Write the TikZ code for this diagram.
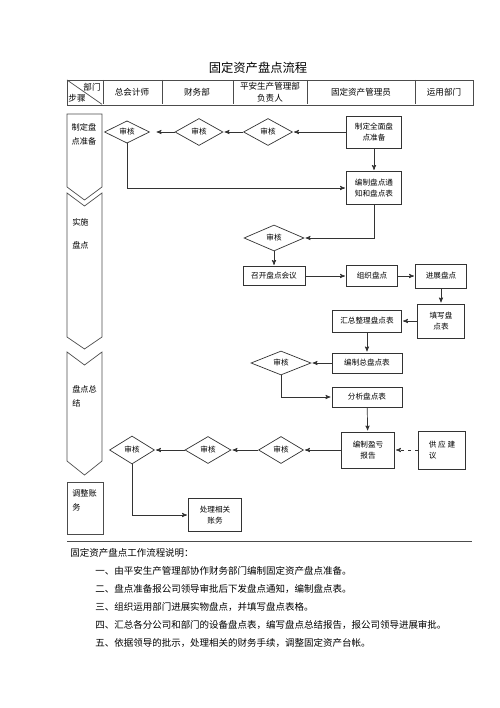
\documentclass[tikz,border=0pt]{standalone}
\usepackage{fontspec}
\setmainfont{Noto Sans CJK SC}
\usepackage{tikz}
\usetikzlibrary{arrows,shapes.geometric,positioning}

\begin{document}
\begin{tikzpicture}[x=0.3mm,y=-0.3mm,->,>=stealth',shorten >=1pt,line width=0.6pt,draw=black!80,
    box/.style={draw,rectangle,align=center,inner sep=1pt,font=\fontsize{6.5}{10}\selectfont},
    check/.style={draw,diamond,inner sep=0pt,font=\fontsize{6.5}{8}\selectfont},
    lane/.style={-,draw=black!70},
    note/.style={anchor=west,inner sep=0pt,font=\fontsize{8.1}{10}\selectfont}]
    \useasboundingbox (0,0) rectangle (500,708);

    \node (title) at (258,68) {\fontsize{10.5}{12}\selectfont 固定资产盘点流程};

    % header
    \draw [lane] (67,80) rectangle (473,105);
    \foreach \x in {103,162,233,307,415}
        \draw [lane] (\x,80) -- (\x,105);
    \draw [lane] (67,80) -- (103,105);
    \begin{scope}[font=\fontsize{7.3}{10}\selectfont,align=center]
        \node (dept) at (92,87) {部门};
        \node (stp)  at (77,98) {步骤};
        \node (h1) at (132,92) {总会计师};
        \node (h2) at (197,92) {财务部};
        \node (h3) at (270,92) {平安生产管理部\\负责人};
        \node (h4) at (361,92) {固定资产管理员};
        \node (h5) at (444,92) {运用部门};
    \end{scope}

    % steps on the left
    \draw [lane] (67,114) -- (102,114) -- (102,187) -- (84.5,200) -- (67,187) -- cycle;
    \draw [lane] (67,193) -- (84.5,206) -- (102,193) -- (102,337) -- (84.5,349) -- (67,337) -- cycle;
    \draw [lane] (67,352) -- (84.5,365) -- (102,352) -- (102,461) -- (84.5,475) -- (67,461) -- cycle;
    \draw [lane] (67,482) rectangle (103,534);
    \begin{scope}[font=\fontsize{7}{12}\selectfont,align=left]
        \node (s1) at (84,134) {制定盘\\点准备};
        \node [anchor=west] (s2a) at (68,222) {实施};
        \node [anchor=west] (s2b) at (68,245) {盘点};
        \node [anchor=west] (s3) at (68,396) {盘点总\\结};
        \node [anchor=west] (s4) at (68,500) {调整账\\务};
    \end{scope}

    % flow
    \node [box,minimum width=16.5mm,minimum height=9.6mm] (prep)   at (374,132) {制定全面盘\\点准备};
    \node [check,minimum width=14.7mm,minimum height=8.1mm] (chk3) at (268,132) {审核};
    \node [check,minimum width=14.4mm,minimum height=8.1mm] (chk2) at (199,132) {审核};
    \node [check,minimum width=13.5mm,minimum height=5.7mm] (chk1) at (127,132) {审核};
    \node [box,minimum width=16.5mm,minimum height=9.9mm] (notice) at (374,188) {编制盘点通\\知和盘点表};
    \node [check,minimum width=18mm,minimum height=7.8mm] (chk4)  at (274,238) {审核};
    \node [box,minimum width=18.6mm,minimum height=5.7mm] (meet)  at (274,276) {召开盘点会议};
    \node [box,minimum width=15.3mm,minimum height=6.3mm] (org)   at (372,276) {组织盘点};
    \node [box,minimum width=15.3mm,minimum height=7.2mm] (count) at (441,276) {进展盘点};
    \node [box,minimum width=14.1mm,minimum height=10.2mm] (fill) at (441,321) {填写盘\\点表};
    \node [box,minimum width=20.7mm,minimum height=6.6mm] (sum)   at (367,321) {汇总整理盘点表};
    \node [box,minimum width=21mm,minimum height=6mm] (total)     at (367,363) {编制总盘点表};
    \node [check,minimum width=18mm,minimum height=7.2mm] (chk5)  at (281,363) {审核};
    \node [box,minimum width=21mm,minimum height=6mm] (anal)      at (367,397) {分析盘点表};
    \node [box,minimum width=15.9mm,minimum height=10.8mm] (report) at (368,450) {编制盈亏\\报告};
    \node [box,align=left,minimum width=14.1mm,minimum height=11.4mm] (advice) at (442,450) {供 应 建\\议\hspace{7mm}};
    \node [check,minimum width=13.5mm,minimum height=8.1mm] (chk6) at (281,450) {审核};
    \node [check,minimum width=13.8mm,minimum height=8.1mm] (chk7) at (208,450) {审核};
    \node [check,minimum width=13.5mm,minimum height=8.4mm] (chk8) at (132,450) {审核};
    \node [box,minimum width=15.9mm,minimum height=9.9mm] (handle) at (215,515) {处理相关\\账务};

    \path (prep) edge (chk3)
                 edge (notice)
          (chk3) edge (chk2)
          (chk2) edge [shorten >=2mm] (chk1)
          (chk4) edge (meet)
          (meet) edge (org)
          (org)  edge (count)
          (count) edge (fill)
          (fill) edge (sum)
          (sum)  edge (total)
          (total) edge (chk5)
          (anal) edge (report)
          (advice) edge [dashed] (report)
          (report) edge (chk6)
          (chk6) edge (chk7)
          (chk7) edge (chk8);
    \draw (chk1) |- (notice);
    \draw (notice) |- (chk4);
    \draw (chk5) |- (anal);
    \draw (chk8) |- (handle);

    \draw [lane] (67,541) -- (473,541);

    % notes
    \node [note] (n0) at (70,553) {固定资产盘点工作流程说明：};
    \node [note] (n1) at (95,571) {一、由平安生产管理部协作财务部门编制固定资产盘点准备。};
    \node [note] (n2) at (95,589) {二、盘点准备报公司领导审批后下发盘点通知，编制盘点表。};
    \node [note] (n3) at (95,607) {三、组织运用部门进展实物盘点，并填写盘点表格。};
    \node [note] (n4) at (95,625) {四、汇总各分公司和部门的设备盘点表，编写盘点总结报告，报公司领导进展审批。};
    \node [note] (n5) at (95,643) {五、依据领导的批示，处理相关的财务手续，调整固定资产台帐。};
\end{tikzpicture}
\end{document}
